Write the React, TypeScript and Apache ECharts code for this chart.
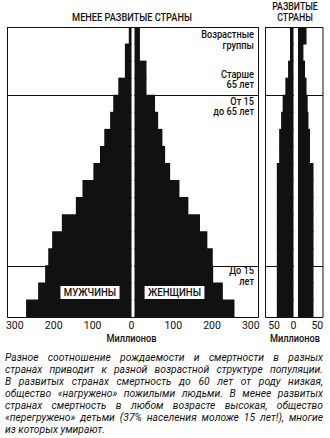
import React, { useEffect, useRef } from 'react';
import * as echarts from 'echarts';

// ---------- data ----------
const ageGroups = ['0-4', '5-9', '10-14', '15-19', '20-24', '25-29', '30-34', '35-39', '40-44', '45-49', '50-54', '55-59', '60-64', '65-69', '70-74', '75-79', '80+'];
// millions, less developed countries
const lessDevMale = [271, 240, 222, 214, 204, 179, 143, 126, 98, 81, 70, 55, 47, 34, 17, 17, 7];
const lessDevFemale = [258, 228, 203, 202, 188, 169, 139, 116, 92, 79, 72, 61, 53, 31, 31, 14, 14];
// millions, developed countries
const devMale = [43, 43, 43, 43, 43, 43, 43, 43, 43, 37, 37, 32, 28, 21, 14, 9, 9];
const devFemale = [40, 40, 40, 40, 40, 40, 40, 40, 40, 31, 31, 27, 25, 22, 18, 14, 22];
const lessDevTicks = [0, 100, 200, 300];
const devTicks = [0, 50];
const boundaryGroups = ['15-19', '65-69'];
const bandLabels = [['Возрастные', 'группы'], ['Старше', '65 лет'], ['От 15', 'до 65 лет'], ['До 15', 'лет']];
const titleLess = 'МЕНЕЕ РАЗВИТЫЕ СТРАНЫ';
const titleDev = ['РАЗВИТЫЕ', 'СТРАНЫ'];
const sexLabels = ['МУЖЧИНЫ', 'ЖЕНЩИНЫ'];
const unitLabel = 'Миллионов';
const captionLines = [
  'Разное соотношение рождаемости и смертности в разных',
  'странах приводит к разной возрастной структуре популяции.',
  'В развитых странах смертность до 60 лет от роду низкая,',
  'общество «нагружено» пожилыми людьми. В менее развитых',
  'странах смертность в любом возрасте высокая, общество',
  '«перегружено» детьми (37% населения моложе 15 лет!), многие',
  'из которых умирают.',
];

// ---------- style / layout ----------
const INK = '#111';
const FONT = 'Roboto, sans-serif';
const CAP_FAMILY = 'Roboto, sans-serif';
const CAP_SIZE = 10.3;
const TOP = 27;
const H = 290;
const grids = [
  { left: 7, top: TOP, width: 124.5, height: H },
  { left: 134.5, top: TOP, width: 124, height: H },
  { left: 265, top: TOP, width: 28.5, height: H },
  { left: 298, top: TOP, width: 25, height: H },
];
const axisMax = [320, 320, 73.5, 64.5];

export default function App() {
  const ref = useRef<HTMLDivElement>(null);
  useEffect(() => {
    document.body.style.margin = '0';
    const chart = echarts.init(ref.current!, null, { renderer: 'svg' });
    const ctx = document.createElement('canvas').getContext('2d')!;

    // condense factor so the label font matches the narrow face of the original
    ctx.font = `500 11px ${FONT}`;
    const SX = 120 / ctx.measureText(titleLess).width;

    const boundaryIdx = boundaryGroups.map((g) => ageGroups.indexOf(g));
    const valueAxis = (i: number, ticks: number[], hideZero: boolean) => ({
      type: 'value',
      gridIndex: i,
      min: 0,
      max: axisMax[i],
      interval: ticks[1] - ticks[0],
      inverse: i % 2 === 0,
      axisLine: { show: false },
      axisTick: { show: false },
      splitLine: { show: false },
      axisLabel: {
        show: true,
        margin: 3,
        fontSize: 10.5,
        fontFamily: FONT,
        color: INK,
        formatter: (v: number) => (ticks.includes(v) && !(hideZero && v === 0) ? String(v) : ''),
      },
    });
    const catAxis = (i: number) => ({
      type: 'category',
      gridIndex: i,
      data: ageGroups,
      axisLine: { show: false },
      axisTick: { show: false },
      axisLabel: { show: false },
      splitLine: {
        show: true,
        interval: (idx: number) => boundaryIdx.includes(idx),
        lineStyle: { color: INK, width: 1 },
      },
    });
    const bar = (i: number, data: number[]) => ({
      type: 'bar',
      xAxisIndex: i,
      yAxisIndex: i,
      data,
      barWidth: H / ageGroups.length + 1,
      silent: true,
      itemStyle: { color: INK, borderWidth: 0 },
    });

    const txt = (text: string, x: number, y: number, align: string, size = 10.5, extra: any = {}) => ({
      type: 'text',
      x,
      y,
      scaleX: SX,
      silent: true,
      z: 20,
      style: {
        text,
        fill: INK,
        fontSize: size,
        fontWeight: 500,
        fontFamily: FONT,
        textAlign: align,
        textVerticalAlign: 'middle',
        ...extra,
      },
    });

    const graphics: any[] = [];
    // frames
    graphics.push({
      type: 'rect', silent: true, z: 10,
      shape: { x: 7.5, y: TOP + 0.5, width: 251, height: H },
      style: { fill: 'none', stroke: INK, lineWidth: 1 },
    });
    graphics.push({
      type: 'rect', silent: true, z: 10,
      shape: { x: 265.5, y: TOP + 0.5, width: 57.5, height: H },
      style: { fill: 'none', stroke: INK, lineWidth: 1 },
    });
    // titles
    graphics.push(txt(titleLess, 132, 17, 'center', 11));
    graphics.push(txt(titleDev[0], 295, 6.5, 'center', 10.5));
    graphics.push(txt(titleDev[1], 295, 17, 'center', 10.5));
    // band labels
    const bandY = [[34, 45], [74, 84.5], [101, 111.5], [270.5, 281]];
    bandLabels.forEach((pair, k) => {
      pair.forEach((t, j) => graphics.push(txt(t, 254, bandY[k][j], 'right', 11)));
    });
    // sex labels
    graphics.push(txt(sexLabels[0], 90, 292.5, 'center', 11.5, { backgroundColor: '#fff', padding: [1, 4, 0, 4] }));
    graphics.push(txt(sexLabels[1], 174.5, 292.5, 'center', 11.5, { backgroundColor: '#fff', padding: [1, 4, 0, 4] }));
    // units
    graphics.push(txt(unitLabel, 131.5, 338, 'center', 11));
    graphics.push(txt(unitLabel, 295, 338.5, 'center', 11));

    // caption, justified word by word
    const capFont = `italic ${CAP_SIZE}px ${CAP_FAMILY}`;
    ctx.font = capFont;
    const CAP_X = 5;
    const CAP_W = 318;
    const spaceW = ctx.measureText(' ').width;
    captionLines.forEach((line, li) => {
      const y = 357.5 + li * 12;
      const words = line.split(' ');
      const widths = words.map((w) => ctx.measureText(w).width);
      const sum = widths.reduce((a, b) => a + b, 0);
      const last = li === captionLines.length - 1;
      const gap = last ? spaceW : Math.max(1.5, (CAP_W - sum) / (words.length - 1));
      let x = CAP_X;
      words.forEach((w, i) => {
        graphics.push({
          type: 'text', x, y, silent: true,
          style: { text: w, fill: INK, font: capFont, textAlign: 'left', textVerticalAlign: 'middle' },
        });
        x += widths[i] + gap;
      });
    });

    chart.setOption({
      animation: false,
      grid: grids,
      xAxis: [
        valueAxis(0, lessDevTicks, false),
        valueAxis(1, lessDevTicks, true),
        valueAxis(2, devTicks, false),
        valueAxis(3, devTicks, true),
      ],
      yAxis: [catAxis(0), catAxis(1), catAxis(2), catAxis(3)],
      series: [bar(0, lessDevMale), bar(1, lessDevFemale), bar(2, devMale), bar(3, devFemale)],
      graphic: graphics,
    });
    return () => chart.dispose();
  }, []);
  return <div ref={ref} style={{ width: 330, height: 438 }} />;
}
